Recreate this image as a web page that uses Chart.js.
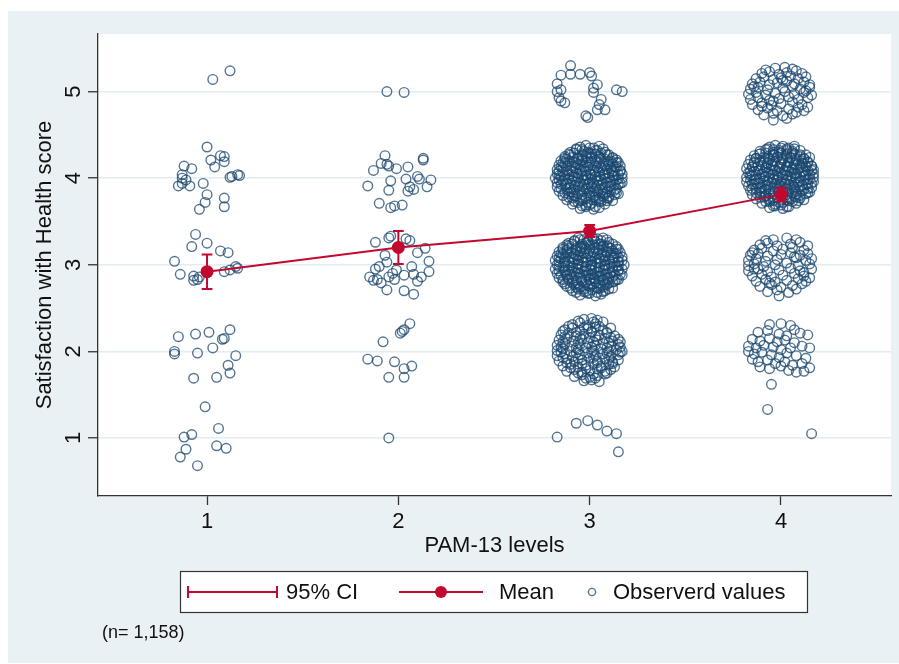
<!DOCTYPE html>
<html>
<head>
<meta charset="utf-8">
<title>Satisfaction with Health score by PAM-13 level</title>
<script src="https://cdn.jsdelivr.net/npm/chart.js@4.4.1/dist/chart.umd.min.js"></script>
<style>
  html, body { margin: 0; padding: 0; background: #ffffff; overflow: hidden; }
  canvas { display: block; }
</style>
</head>
<body>
<canvas id="chart" width="899" height="664"></canvas>
<script>
// tick labels
const levelTicks = [1, 2, 3, 4];
const scoreTicks = [1, 2, 3, 4, 5];

// mean and 95% CI per PAM-13 level
const meanScore = [2.92, 3.20, 3.39, 3.81];
const ciLower = [2.72, 3.01, 3.32, 3.73];
const ciUpper = [3.12, 3.39, 3.46, 3.89];

const obsLevel1 = [
  [1.03,5.14],[1.12,5.24],
  [1.00,4.36],[1.02,4.21],[1.07,4.26],[1.09,4.25],[1.09,4.19],[1.04,4.13],[0.88,4.14],[0.92,4.11],[0.87,4.04],[0.87,4.00],
  [0.89,3.98],[0.91,3.91],[0.85,3.91],[0.87,3.94],[0.98,3.94],[1.12,4.01],[1.16,4.04],[1.13,4.02],[1.17,4.03],[1.00,3.81],
  [0.99,3.72],[0.96,3.64],[1.09,3.77],[1.09,3.67],
  [0.94,3.35],[0.92,3.21],[1.00,3.25],[1.07,3.16],[1.11,3.14],[0.83,3.04],[0.86,2.89],[0.93,2.87],[0.95,2.83],[0.96,2.86],
  [0.93,2.82],[1.09,2.92],[1.12,2.94],[1.15,2.98],[1.16,2.96],
  [0.85,2.17],[0.94,2.20],[1.01,2.22],[1.12,2.25],[1.08,2.14],[1.09,2.15],[0.83,2.00],[0.83,1.97],[0.95,1.98],[1.03,2.04],
  [1.15,1.95],[1.11,1.84],[1.12,1.75],[0.93,1.69],[1.05,1.70],
  [0.99,1.36],[1.06,1.11],[0.88,1.01],[0.92,1.04],[0.89,0.87],[0.86,0.78],[1.05,0.91],[1.10,0.88],[0.95,0.68]
];

const obsLevel2 = [
  [1.94,5.00],[2.03,4.99],
  [1.93,4.26],[1.91,4.17],[1.94,4.16],[1.95,4.14],[1.87,4.09],[1.99,4.11],[2.05,4.13],[2.13,4.23],[2.13,4.21],[2.04,3.99],
  [2.10,4.02],[2.11,3.99],[2.17,3.98],[1.96,3.97],[1.84,3.91],[1.95,3.86],[2.06,3.90],[2.05,3.85],[2.08,3.87],[2.15,3.90],
  [1.90,3.71],[1.96,3.66],[1.98,3.68],[2.02,3.69],
  [1.88,3.26],[1.95,3.31],[1.96,3.33],[2.06,3.28],[2.04,3.30],[2.10,3.14],[2.14,3.19],[1.93,3.11],[1.94,3.03],[1.88,2.95],
  [1.90,2.98],[1.85,2.86],[1.87,2.82],[1.89,2.83],[1.91,2.79],[1.97,2.90],[1.99,2.94],[2.03,2.88],[2.07,2.98],[2.08,2.89],
  [2.12,2.86],[2.16,3.04],[2.16,2.92],[1.94,2.71],[2.03,2.70],[2.08,2.66],[2.10,2.81],[1.98,2.83],[1.95,2.86],
  [2.06,2.32],[2.03,2.25],[2.02,2.23],[2.01,2.21],[1.92,2.11],[1.84,1.91],[1.89,1.89],[1.98,1.88],[2.03,1.80],[2.07,1.83],
  [1.95,1.70],[2.03,1.70],
  [1.95,1.00]
];

const obsLevel3 = [
  // score 5
  [2.90,5.30],[2.85,5.19],[2.90,5.20],[2.95,5.20],[3.00,5.22],[3.01,5.18],[2.83,5.09],[3.04,5.08],[3.02,5.04],[2.83,5.00],
  [2.85,5.02],[2.84,4.93],[2.85,4.89],[2.87,4.87],[3.02,4.99],[3.14,5.02],[3.17,5.00],[3.06,4.91],[3.05,4.85],[3.08,4.79],
  [3.04,4.79],[2.98,4.72],[2.99,4.70],
  // score 4
  [2.95,4.36],[2.98,4.38],[3.02,4.35],[3.05,4.37],
  [2.90,4.30],[2.93,4.33],[2.97,4.31],[3.00,4.29],[3.04,4.32],[3.08,4.30],
  [2.87,4.25],[2.90,4.27],[2.94,4.24],[2.98,4.26],[3.01,4.28],[3.05,4.25],[3.09,4.27],[3.12,4.24],
  [2.85,4.20],[2.88,4.22],[2.92,4.19],[2.96,4.21],[2.99,4.23],[3.03,4.20],[3.06,4.22],[3.10,4.19],[3.14,4.21],
  [2.84,4.15],[2.87,4.17],[2.91,4.14],[2.94,4.16],[2.98,4.18],[3.01,4.15],[3.05,4.17],[3.08,4.14],[3.12,4.16],[3.15,4.18],
  [2.83,4.10],[2.86,4.12],[2.90,4.09],[2.93,4.11],[2.97,4.13],[3.00,4.10],[3.04,4.12],[3.07,4.09],[3.11,4.11],[3.14,4.13],[3.16,4.08],
  [2.83,4.05],[2.86,4.07],[2.89,4.04],[2.93,4.06],[2.96,4.08],[3.00,4.05],[3.03,4.07],[3.07,4.04],[3.10,4.06],[3.13,4.08],[3.17,4.05],
  [2.82,4.00],[2.85,4.02],[2.89,3.99],[2.92,4.01],[2.96,4.03],[2.99,4.00],[3.03,4.02],[3.06,3.99],[3.10,4.01],[3.13,4.03],[3.17,4.00],
  [2.83,3.95],[2.86,3.97],[2.90,3.94],[2.93,3.96],[2.97,3.98],[3.00,3.95],[3.04,3.97],[3.07,3.94],[3.11,3.96],[3.14,3.98],[3.17,3.95],
  [2.83,3.90],[2.87,3.92],[2.90,3.89],[2.94,3.91],[2.97,3.93],[3.01,3.90],[3.04,3.92],[3.08,3.89],[3.11,3.91],[3.15,3.93],
  [2.84,3.85],[2.88,3.87],[2.91,3.84],[2.95,3.86],[2.98,3.88],[3.02,3.85],[3.05,3.87],[3.09,3.84],[3.13,3.86],[3.15,3.82],
  [2.86,3.80],[2.89,3.82],[2.93,3.79],[2.96,3.81],[3.00,3.83],[3.03,3.80],[3.07,3.82],[3.10,3.79],[3.13,3.81],
  [2.88,3.75],[2.91,3.77],[2.95,3.74],[2.98,3.76],[3.02,3.78],[3.05,3.75],[3.09,3.77],[3.12,3.74],
  [2.91,3.70],[2.94,3.72],[2.98,3.69],[3.01,3.71],[3.05,3.73],[3.08,3.70],
  [2.95,3.65],[2.98,3.67],[3.02,3.64],[3.05,3.66],
  [2.93,4.34],[2.96,4.33],[3.00,4.35],[3.03,4.32],[3.07,4.34],
  [2.89,4.28],[2.92,4.29],[2.96,4.27],[2.99,4.30],[3.03,4.28],[3.06,4.29],[3.10,4.27],
  [2.87,4.23],[2.91,4.24],[2.94,4.22],[2.98,4.25],[3.01,4.23],[3.05,4.24],[3.08,4.22],[3.12,4.23],
  [2.86,4.18],[2.89,4.19],[2.93,4.17],[2.96,4.20],[3.00,4.18],[3.04,4.19],[3.07,4.17],[3.11,4.20],[3.14,4.18],
  [2.85,4.13],[2.88,4.14],[2.92,4.12],[2.95,4.15],[2.99,4.13],[3.03,4.14],[3.06,4.12],[3.10,4.15],[3.13,4.13],[3.16,4.14],
  [2.84,4.08],[2.88,4.09],[2.91,4.07],[2.95,4.10],[2.98,4.08],[3.02,4.09],[3.05,4.07],[3.09,4.10],[3.12,4.08],[3.16,4.09],
  [2.84,4.03],[2.87,4.04],[2.91,4.02],[2.94,4.05],[2.98,4.03],[3.01,4.04],[3.05,4.02],[3.08,4.05],[3.12,4.03],[3.15,4.04],
  [2.84,3.98],[2.87,3.99],[2.91,3.97],[2.94,4.00],[2.98,3.98],[3.01,3.99],[3.05,3.97],[3.08,4.00],[3.12,3.98],[3.15,3.99],
  [2.85,3.93],[2.88,3.94],[2.92,3.92],[2.95,3.95],[2.99,3.93],[3.02,3.94],[3.06,3.92],[3.09,3.95],[3.13,3.93],[3.16,3.94],
  [2.85,3.88],[2.89,3.89],[2.92,3.87],[2.96,3.90],[2.99,3.88],[3.03,3.89],[3.07,3.87],[3.10,3.90],[3.14,3.88],
  [2.87,3.83],[2.90,3.84],[2.94,3.82],[2.97,3.85],[3.01,3.83],[3.04,3.84],[3.08,3.82],[3.11,3.85],[3.14,3.83],
  [2.89,3.78],[2.92,3.79],[2.96,3.77],[3.00,3.80],[3.03,3.78],[3.07,3.79],[3.10,3.77],
  [2.92,3.73],[2.96,3.74],[2.99,3.72],[3.03,3.75],[3.06,3.73],[3.09,3.74],
  [2.96,3.68],[3.00,3.69],[3.03,3.67],
  // score 3
  [2.94,3.31],[2.97,3.29],[3.01,3.32],[3.04,3.30],[3.07,3.31],
  [2.89,3.25],[2.92,3.27],[2.96,3.24],[2.99,3.26],[3.03,3.27],[3.06,3.24],[3.10,3.26],
  [2.86,3.20],[2.89,3.22],[2.93,3.19],[2.97,3.21],[3.00,3.23],[3.04,3.20],[3.07,3.22],[3.11,3.19],[3.14,3.21],
  [2.84,3.15],[2.88,3.17],[2.91,3.14],[2.95,3.16],[2.98,3.18],[3.02,3.15],[3.05,3.17],[3.09,3.14],[3.12,3.16],[3.15,3.18],
  [2.83,3.10],[2.86,3.12],[2.90,3.09],[2.93,3.11],[2.97,3.13],[3.00,3.10],[3.04,3.12],[3.07,3.09],[3.11,3.11],[3.14,3.13],[3.17,3.09],
  [2.82,3.05],[2.85,3.07],[2.89,3.04],[2.92,3.06],[2.96,3.08],[2.99,3.05],[3.03,3.07],[3.06,3.04],[3.10,3.06],[3.13,3.08],[3.17,3.05],
  [2.83,3.00],[2.87,3.02],[2.90,2.99],[2.94,3.01],[2.97,3.03],[3.01,3.00],[3.04,3.02],[3.08,2.99],[3.11,3.01],[3.15,3.03],[3.18,3.00],
  [2.82,2.95],[2.86,2.97],[2.89,2.94],[2.93,2.96],[2.96,2.98],[3.00,2.95],[3.03,2.97],[3.07,2.94],[3.10,2.96],[3.14,2.98],[3.17,2.95],
  [2.83,2.90],[2.87,2.92],[2.90,2.89],[2.94,2.91],[2.97,2.93],[3.01,2.90],[3.04,2.92],[3.08,2.89],[3.11,2.91],[3.15,2.93],[3.17,2.88],
  [2.84,2.85],[2.88,2.87],[2.91,2.84],[2.95,2.86],[2.98,2.88],[3.02,2.85],[3.05,2.87],[3.09,2.84],[3.12,2.86],[3.15,2.83],
  [2.86,2.80],[2.89,2.82],[2.93,2.79],[2.96,2.81],[3.00,2.83],[3.03,2.80],[3.07,2.82],[3.10,2.79],[3.13,2.81],
  [2.88,2.75],[2.92,2.77],[2.95,2.74],[2.99,2.76],[3.02,2.78],[3.06,2.75],[3.09,2.77],[3.12,2.73],
  [2.91,2.70],[2.94,2.72],[2.98,2.69],[3.01,2.71],[3.05,2.73],[3.08,2.70],
  [2.95,2.65],[2.99,2.67],[3.03,2.64],[3.06,2.66],
  [2.92,3.28],[2.95,3.29],[2.99,3.27],[3.02,3.30],[3.06,3.28],[3.09,3.29],
  [2.88,3.23],[2.91,3.24],[2.95,3.22],[2.98,3.25],[3.02,3.23],[3.05,3.24],[3.09,3.22],[3.12,3.24],
  [2.86,3.18],[2.89,3.19],[2.93,3.17],[2.96,3.20],[3.00,3.18],[3.03,3.19],[3.07,3.17],[3.10,3.20],[3.14,3.18],
  [2.85,3.13],[2.88,3.14],[2.92,3.12],[2.95,3.15],[2.99,3.13],[3.02,3.14],[3.06,3.12],[3.09,3.15],[3.13,3.13],[3.16,3.14],
  [2.84,3.08],[2.87,3.09],[2.91,3.07],[2.94,3.10],[2.98,3.08],[3.01,3.09],[3.05,3.07],[3.08,3.10],[3.12,3.08],[3.15,3.09],
  [2.84,3.03],[2.87,3.04],[2.91,3.02],[2.94,3.05],[2.98,3.03],[3.01,3.04],[3.05,3.02],[3.08,3.05],[3.12,3.03],[3.15,3.04],
  [2.84,2.98],[2.87,2.99],[2.91,2.97],[2.94,3.00],[2.98,2.98],[3.01,2.99],[3.05,2.97],[3.08,3.00],[3.12,2.98],[3.15,2.99],
  [2.84,2.93],[2.87,2.94],[2.91,2.92],[2.94,2.95],[2.98,2.93],[3.01,2.94],[3.05,2.92],[3.08,2.95],[3.12,2.93],[3.15,2.94],
  [2.85,2.88],[2.88,2.89],[2.92,2.87],[2.95,2.90],[2.99,2.88],[3.02,2.89],[3.06,2.87],[3.09,2.90],[3.13,2.88],[3.16,2.89],
  [2.86,2.83],[2.89,2.84],[2.93,2.82],[2.96,2.85],[3.00,2.83],[3.03,2.84],[3.07,2.82],[3.10,2.85],[3.14,2.83],
  [2.87,2.78],[2.91,2.79],[2.94,2.77],[2.98,2.80],[3.01,2.78],[3.05,2.79],[3.08,2.77],[3.12,2.80],
  [2.90,2.73],[2.93,2.74],[2.97,2.72],[3.00,2.75],[3.04,2.73],[3.07,2.74],[3.10,2.72],
  [2.93,2.68],[2.97,2.69],[3.00,2.67],[3.04,2.68],[3.07,2.69],
  // score 2
  [2.97,2.37],[3.01,2.38],[3.04,2.36],
  [2.91,2.31],[2.95,2.33],[2.99,2.30],[3.03,2.32],[3.07,2.34],
  [2.87,2.25],[2.91,2.27],[2.95,2.24],[2.99,2.26],[3.03,2.28],[3.07,2.25],[3.11,2.27],
  [2.85,2.19],[2.89,2.21],[2.93,2.18],[2.97,2.20],[3.01,2.22],[3.05,2.19],[3.09,2.21],[3.13,2.18],
  [2.84,2.13],[2.88,2.15],[2.92,2.12],[2.96,2.14],[3.00,2.16],[3.04,2.13],[3.08,2.15],[3.12,2.12],[3.15,2.14],
  [2.83,2.07],[2.87,2.09],[2.91,2.06],[2.95,2.08],[2.99,2.10],[3.03,2.07],[3.07,2.09],[3.11,2.06],[3.15,2.08],
  [2.83,2.01],[2.86,2.03],[2.90,2.00],[2.94,2.02],[2.98,2.04],[3.02,2.01],[3.06,2.03],[3.10,2.00],[3.14,2.02],[3.17,2.00],
  [2.83,1.95],[2.87,1.97],[2.91,1.94],[2.95,1.96],[2.99,1.98],[3.03,1.95],[3.07,1.97],[3.11,1.94],[3.15,1.96],
  [2.84,1.89],[2.88,1.91],[2.92,1.88],[2.96,1.90],[3.00,1.92],[3.04,1.89],[3.08,1.91],[3.12,1.88],[3.15,1.90],
  [2.86,1.83],[2.90,1.85],[2.94,1.82],[2.98,1.84],[3.02,1.86],[3.06,1.83],[3.10,1.85],[3.13,1.82],
  [2.88,1.77],[2.92,1.79],[2.96,1.76],[3.00,1.78],[3.04,1.80],[3.08,1.77],[3.11,1.79],
  [2.92,1.71],[2.96,1.73],[3.00,1.70],[3.04,1.72],[3.08,1.74],
  [2.97,1.66],[3.01,1.67],[3.05,1.65],
  [2.94,2.35],[3.02,2.34],
  [2.89,2.29],[2.97,2.28],[3.05,2.29],
  [2.86,2.23],[2.93,2.22],[3.01,2.23],[3.09,2.22],
  [2.87,2.17],[2.95,2.16],[3.03,2.17],[3.11,2.16],
  [2.86,2.11],[2.94,2.10],[3.02,2.11],[3.10,2.10],[3.16,2.11],
  [2.85,2.05],[2.93,2.04],[3.01,2.05],[3.09,2.04],[3.16,2.05],
  [2.85,1.99],[2.93,1.98],[3.01,1.99],[3.09,1.98],[3.16,1.99],
  [2.86,1.93],[2.94,1.92],[3.02,1.93],[3.10,1.92],
  [2.88,1.87],[2.96,1.86],[3.04,1.87],[3.12,1.86],
  [2.90,1.81],[2.98,1.80],[3.06,1.81],
  [2.94,1.75],[3.02,1.74],[3.09,1.75],
  [2.98,1.69],[3.03,1.69],
  // score 1
  [2.83,1.01],[2.93,1.17],[2.99,1.20],[3.04,1.15],[3.09,1.08],[3.14,1.05],[3.15,0.84]
];

const obsLevel4 = [
  // score 5
  [3.97,5.27],[4.02,5.28],[4.06,5.26],
  [3.90,5.21],[3.94,5.23],[3.99,5.20],[4.03,5.22],[4.08,5.24],
  [3.87,5.15],[3.91,5.17],[3.96,5.14],[4.00,5.16],[4.05,5.18],[4.09,5.15],[4.13,5.17],
  [3.85,5.09],[3.89,5.11],[3.94,5.08],[3.98,5.10],[4.03,5.12],[4.07,5.09],[4.12,5.11],[4.15,5.08],
  [3.84,5.03],[3.88,5.05],[3.93,5.02],[4.01,5.04],[4.06,5.06],[4.10,5.03],[4.15,5.05],
  [3.83,4.97],[3.87,4.99],[3.92,4.96],[3.97,4.98],[4.02,5.00],[4.07,4.97],[4.12,4.99],[4.16,4.96],
  [3.84,4.91],[3.88,4.93],[3.94,4.90],[3.99,4.92],[4.04,4.94],[4.09,4.91],[4.14,4.93],
  [3.85,4.85],[3.90,4.87],[3.95,4.84],[4.00,4.86],[4.06,4.88],[4.11,4.85],[4.14,4.82],
  [3.88,4.79],[3.93,4.81],[3.98,4.78],[4.04,4.80],[4.09,4.82],[4.12,4.78],
  [3.91,4.73],[3.96,4.75],[4.01,4.72],[4.06,4.74],
  [3.96,4.67],[4.03,4.69],
  [3.92,5.25],[4.11,5.21],[3.86,5.06],[4.13,5.01],[3.90,4.83],[4.08,4.76],[4.01,5.13],[3.96,4.89],
  // score 4
  [3.94,4.36],[3.97,4.38],[4.01,4.37],[4.04,4.35],[4.07,4.37],
  [3.89,4.31],[3.92,4.33],[3.96,4.30],[3.99,4.32],[4.03,4.34],[4.06,4.31],[4.10,4.32],
  [3.86,4.26],[3.89,4.28],[3.93,4.25],[3.96,4.27],[4.00,4.29],[4.03,4.26],[4.07,4.28],[4.10,4.25],[4.13,4.27],
  [3.84,4.21],[3.87,4.23],[3.91,4.20],[3.94,4.22],[3.98,4.24],[4.01,4.21],[4.05,4.23],[4.08,4.20],[4.12,4.22],[4.15,4.24],
  [3.83,4.16],[3.86,4.18],[3.90,4.15],[3.93,4.17],[3.97,4.19],[4.00,4.16],[4.04,4.18],[4.07,4.15],[4.11,4.17],[4.14,4.19],[4.16,4.14],
  [3.82,4.11],[3.85,4.13],[3.89,4.10],[3.92,4.12],[3.96,4.14],[3.99,4.11],[4.03,4.13],[4.06,4.10],[4.10,4.12],[4.13,4.14],[4.17,4.10],
  [3.83,4.06],[3.86,4.08],[3.90,4.05],[3.93,4.07],[3.97,4.09],[4.00,4.06],[4.04,4.08],[4.07,4.05],[4.11,4.07],[4.14,4.09],[4.17,4.05],
  [3.82,4.01],[3.85,4.03],[3.89,4.00],[3.92,4.02],[3.96,4.04],[3.99,4.01],[4.03,4.03],[4.06,4.00],[4.10,4.02],[4.13,4.04],[4.17,4.01],
  [3.82,3.96],[3.86,3.98],[3.89,3.95],[3.93,3.97],[3.96,3.99],[4.00,3.96],[4.03,3.98],[4.07,3.95],[4.10,3.97],[4.14,3.99],[4.17,3.96],
  [3.83,3.91],[3.86,3.93],[3.90,3.90],[3.93,3.92],[3.97,3.94],[4.00,3.91],[4.04,3.93],[4.07,3.90],[4.11,3.92],[4.14,3.94],[4.16,3.89],
  [3.84,3.86],[3.87,3.88],[3.91,3.85],[3.94,3.87],[3.98,3.89],[4.01,3.86],[4.05,3.88],[4.08,3.85],[4.12,3.87],[4.15,3.84],
  [3.85,3.81],[3.89,3.83],[3.92,3.80],[3.96,3.82],[3.99,3.84],[4.03,3.81],[4.06,3.83],[4.10,3.80],[4.13,3.82],
  [3.87,3.76],[3.91,3.78],[3.94,3.75],[3.98,3.77],[4.01,3.79],[4.05,3.76],[4.08,3.78],[4.12,3.75],
  [3.90,3.71],[3.94,3.73],[3.97,3.70],[4.01,3.72],[4.04,3.74],[4.08,3.71],
  [3.94,3.66],[3.97,3.68],[4.01,3.65],[4.04,3.67],
  [3.93,4.34],[3.96,4.33],[4.00,4.35],[4.03,4.32],[4.07,4.34],
  [3.89,4.28],[3.92,4.29],[3.96,4.27],[3.99,4.30],[4.03,4.28],[4.06,4.29],[4.10,4.27],
  [3.87,4.23],[3.91,4.24],[3.94,4.22],[3.98,4.25],[4.01,4.23],[4.05,4.24],[4.08,4.22],[4.12,4.23],
  [3.86,4.18],[3.89,4.19],[3.93,4.17],[3.96,4.20],[4.00,4.18],[4.04,4.19],[4.07,4.17],[4.11,4.20],[4.14,4.18],
  [3.85,4.13],[3.88,4.14],[3.92,4.12],[3.95,4.15],[3.99,4.13],[4.03,4.14],[4.06,4.12],[4.10,4.15],[4.13,4.13],[4.16,4.14],
  [3.84,4.08],[3.88,4.09],[3.91,4.07],[3.95,4.10],[3.98,4.08],[4.02,4.09],[4.05,4.07],[4.09,4.10],[4.12,4.08],[4.16,4.09],
  [3.84,4.03],[3.87,4.04],[3.91,4.02],[3.94,4.05],[3.98,4.03],[4.01,4.04],[4.05,4.02],[4.08,4.05],[4.12,4.03],[4.15,4.04],
  [3.84,3.98],[3.87,3.99],[3.91,3.97],[3.94,4.00],[3.98,3.98],[4.01,3.99],[4.05,3.97],[4.08,4.00],[4.12,3.98],[4.15,3.99],
  [3.85,3.93],[3.88,3.94],[3.92,3.92],[3.95,3.95],[3.99,3.93],[4.02,3.94],[4.06,3.92],[4.09,3.95],[4.13,3.93],[4.16,3.94],
  [3.85,3.88],[3.89,3.89],[3.92,3.87],[3.96,3.90],[3.99,3.88],[4.03,3.89],[4.07,3.87],[4.10,3.90],[4.14,3.88],
  [3.87,3.83],[3.90,3.84],[3.94,3.82],[3.97,3.85],[4.01,3.83],[4.04,3.84],[4.08,3.82],[4.11,3.85],[4.14,3.83],
  [3.89,3.78],[3.92,3.79],[3.96,3.77],[4.00,3.80],[4.03,3.78],[4.07,3.79],[4.10,3.77],
  [3.92,3.73],[3.96,3.74],[3.99,3.72],[4.03,3.75],[4.06,3.73],[4.09,3.74],
  [3.96,3.68],[4.00,3.69],[4.03,3.67],
  // score 3
  [3.96,3.29],[4.03,3.31],[4.08,3.29],
  [3.89,3.23],[3.93,3.25],[3.98,3.22],[4.05,3.24],[4.10,3.26],
  [3.86,3.17],[3.90,3.19],[3.96,3.16],[4.01,3.18],[4.06,3.20],[4.12,3.17],
  [3.84,3.11],[3.88,3.13],[3.93,3.10],[4.00,3.12],[4.05,3.14],[4.10,3.11],[4.14,3.13],
  [3.83,3.05],[3.87,3.07],[3.92,3.04],[3.98,3.06],[4.08,3.08],[4.13,3.05],[4.16,3.07],
  [3.83,2.99],[3.86,3.01],[3.91,2.98],[3.97,3.00],[4.03,3.02],[4.09,2.99],[4.15,3.01],
  [3.83,2.93],[3.88,2.95],[3.93,2.92],[3.99,2.94],[4.05,2.96],[4.10,2.93],[4.16,2.95],
  [3.85,2.87],[3.90,2.89],[3.95,2.86],[4.01,2.88],[4.07,2.90],[4.12,2.87],[4.15,2.85],
  [3.87,2.81],[3.92,2.83],[3.97,2.80],[4.03,2.82],[4.09,2.84],[4.13,2.81],
  [3.89,2.75],[3.95,2.77],[4.00,2.74],[4.06,2.76],[4.11,2.78],
  [3.93,2.69],[3.98,2.71],[4.04,2.68],
  [3.99,2.64],
  [3.92,3.28],[4.14,3.22],[3.85,3.14],[4.07,3.09],[3.86,2.95],[4.12,2.91],[3.94,2.79],[4.08,2.72],
  // score 2
  [3.94,2.31],[4.00,2.32],[4.05,2.30],[4.07,2.25],
  [3.88,2.22],[3.93,2.24],[3.99,2.20],[4.03,2.18],[4.10,2.21],[4.14,2.19],
  [3.85,2.14],[3.89,2.12],[3.94,2.15],[3.98,2.11],[4.02,2.13],[4.07,2.10],[4.11,2.06],
  [3.83,2.06],[3.87,2.04],[3.91,2.07],[3.96,2.05],[4.00,2.02],[4.05,2.04],[4.15,2.04],
  [3.83,2.00],[3.86,1.97],[3.90,1.99],[3.95,1.96],[3.99,1.93],[4.03,1.98],[4.08,1.95],[4.13,1.92],
  [3.85,1.91],[3.88,1.88],[3.93,1.90],[3.97,1.86],[4.02,1.88],[4.06,1.84],[4.11,1.86],
  [3.89,1.82],[3.94,1.80],[4.00,1.83],[4.04,1.78],[4.08,1.76],[4.12,1.77],[4.15,1.81],
  [3.95,1.62],[3.93,1.33],
  // score 1
  [4.16,1.05]
];

const FONT = "'Liberation Sans', Arial, Helvetica, sans-serif";
const NAVY = 'rgba(26, 71, 111, 0.75)';
const RED = '#c1092f';
const CAP = 0.028; // half width of the CI caps, in x units

const observed = [...obsLevel1, ...obsLevel2, ...obsLevel3, ...obsLevel4].map(([x, y]) => ({ x, y }));

// whiskers and caps, split with nulls so each level is its own segment
const whiskers = [];
const caps = [];
levelTicks.forEach((lv, i) => {
    whiskers.push({ x: lv, y: ciLower[i] }, { x: lv, y: ciUpper[i] }, { x: lv, y: null });
    caps.push({ x: lv - CAP, y: ciUpper[i] }, { x: lv + CAP, y: ciUpper[i] }, { x: lv, y: null });
    caps.push({ x: lv - CAP, y: ciLower[i] }, { x: lv + CAP, y: ciLower[i] }, { x: lv, y: null });
});
const means = levelTicks.map((lv, i) => ({ x: lv, y: meanScore[i] }));

// light bluish page, white plot region
const backdrop = {
    id: 'backdrop',
    beforeDraw(chart) {
        const { ctx, chartArea: a } = chart;
        ctx.save();
        ctx.fillStyle = '#ffffff';
        ctx.fillRect(0, 0, chart.width, chart.height);
        ctx.fillStyle = '#eaf1f4';
        ctx.fillRect(8, 11, chart.width - 8, chart.height - 12);
        ctx.fillStyle = '#ffffff';
        ctx.fillRect(a.left, a.top, a.right - a.left, a.bottom - a.top);
        ctx.restore();
    }
};

// rotated y tick labels, placed with the y scale
const yLabels = {
    id: 'yLabels',
    afterDraw(chart) {
        const { ctx } = chart;
        const y = chart.scales.y;
        ctx.save();
        ctx.fillStyle = '#111';
        ctx.font = '22px ' + FONT;
        ctx.textAlign = 'center';
        ctx.textBaseline = 'middle';
        scoreTicks.forEach(v => {
            ctx.save();
            ctx.translate(73, y.getPixelForValue(v));
            ctx.rotate(-Math.PI / 2);
            ctx.fillText(String(v), 0, 1);
            ctx.restore();
        });
        ctx.restore();
    }
};

// boxed legend under the axis title, plus the sample size note
const boxLegend = {
    id: 'boxLegend',
    afterDraw(chart) {
        const { ctx } = chart;
        const ds = chart.data.datasets;
        const cy = 592;
        ctx.save();
        ctx.fillStyle = '#ffffff';
        ctx.fillRect(180, 571, 627, 41);
        ctx.strokeStyle = '#333';
        ctx.lineWidth = 1.2;
        ctx.strokeRect(180.5, 571.5, 627, 41);

        ctx.strokeStyle = RED;
        ctx.lineWidth = 2;
        ctx.beginPath();
        ctx.moveTo(188, cy); ctx.lineTo(277, cy);
        ctx.moveTo(188, cy - 6); ctx.lineTo(188, cy + 6);
        ctx.moveTo(277, cy - 6); ctx.lineTo(277, cy + 6);
        ctx.moveTo(399, cy); ctx.lineTo(483, cy);
        ctx.stroke();
        ctx.fillStyle = RED;
        ctx.beginPath();
        ctx.arc(441, cy, 6, 0, Math.PI * 2);
        ctx.fill();

        ctx.strokeStyle = NAVY;
        ctx.lineWidth = 1.4;
        ctx.beginPath();
        ctx.arc(592, cy, 3.6, 0, Math.PI * 2);
        ctx.stroke();

        ctx.fillStyle = '#111';
        ctx.font = '22px ' + FONT;
        ctx.textAlign = 'left';
        ctx.textBaseline = 'middle';
        ctx.fillText(ds[1].label, 286, cy + 1);
        ctx.fillText(ds[0].label, 499, cy + 1);
        ctx.fillText(ds[3].label, 613, cy + 1);

        ctx.font = '18px ' + FONT;
        ctx.fillText('(n= 1,158)', 102, 633);
        ctx.restore();
    }
};

new Chart(document.getElementById('chart'), {
    type: 'scatter',
    data: {
        datasets: [
            {
                type: 'line',
                label: 'Mean',
                data: means,
                borderColor: RED,
                backgroundColor: RED,
                borderWidth: 2,
                pointRadius: 6.5,
                pointBackgroundColor: RED,
                pointBorderWidth: 0,
                order: 1
            },
            {
                type: 'line',
                label: '95% CI',
                data: whiskers,
                borderColor: RED,
                borderWidth: 2,
                pointRadius: 0,
                spanGaps: false,
                order: 2
            },
            {
                type: 'line',
                label: '95% CI caps',
                data: caps,
                borderColor: RED,
                borderWidth: 2,
                pointRadius: 0,
                spanGaps: false,
                order: 2
            },
            {
                label: 'Observerd values',
                data: observed,
                pointStyle: 'circle',
                pointRadius: 4.8,
                borderWidth: 1.4,
                borderColor: NAVY,
                backgroundColor: 'rgba(0,0,0,0)',
                order: 3
            }
        ]
    },
    options: {
        responsive: false,
        animation: false,
        events: [],
        layout: { padding: { left: 0, top: 34, right: 8, bottom: 0 } },
        plugins: {
            legend: { display: false },
            tooltip: { enabled: false }
        },
        scales: {
            x: {
                type: 'linear',
                min: 0.43,
                max: 4.575,
                afterBuildTicks: s => { s.ticks = levelTicks.map(v => ({ value: v })); },
                afterFit: s => { s.height = 168; },
                grid: { drawOnChartArea: false, drawTicks: true, tickLength: 9, tickColor: '#333', tickWidth: 1.3 },
                border: { display: true, color: '#333', width: 1.3 },
                ticks: {
                    color: '#111',
                    padding: 4,
                    maxRotation: 0,
                    font: { family: FONT, size: 22 },
                    callback: v => String(v)
                },
                title: {
                    display: true,
                    text: 'PAM-13 levels',
                    color: '#111',
                    font: { family: FONT, size: 22 },
                    padding: { top: 0, bottom: 104.8 }
                }
            },
            y: {
                type: 'linear',
                min: 0.33,
                max: 5.665,
                afterBuildTicks: s => { s.ticks = scoreTicks.map(v => ({ value: v })); },
                afterFit: s => { s.width = 98; },
                grid: { color: '#e3ecef', lineWidth: 1.5, drawTicks: true, tickLength: 10, tickColor: '#333', tickWidth: 1.3 },
                border: { display: true, color: '#333', width: 1.3 },
                ticks: { display: false },
                title: {
                    display: true,
                    text: 'Satisfaction with Health score',
                    color: '#111',
                    font: { family: FONT, size: 22 },
                    padding: { top: 31.8, bottom: 0 }
                }
            }
        }
    },
    plugins: [backdrop, yLabels, boxLegend]
});
</script>
</body>
</html>
